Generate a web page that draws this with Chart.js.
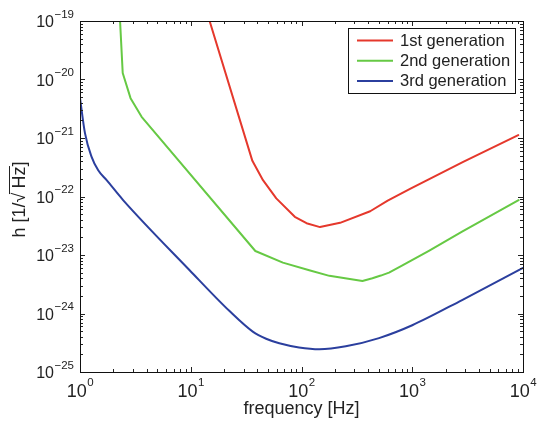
<!DOCTYPE html>
<html>
<head>
<meta charset="utf-8">
<script src="https://cdn.jsdelivr.net/npm/chart.js@4.4.1/dist/chart.umd.min.js"></script>
<style>
  html, body { margin: 0; padding: 0; background: #ffffff; }
  #c { display: block; }
</style>
</head>
<body>
<canvas id="c" width="542" height="421"></canvas>
<script>
// ---- data ----
const seriesNames = ["1st generation", "2nd generation", "3rd generation"];

const freq1 = [14.8, 36, 44.9, 59.2, 87, 111, 147, 223, 417, 600, 955, 2884, 9057];
const h1    = [1.0e-19, 4.07e-22, 1.9e-22, 9.3e-23, 4.5e-23, 3.5e-23, 3.0e-23, 3.55e-23, 5.6e-23, 8.5e-23, 1.35e-22, 3.9e-22, 1.12e-21];

const freq2 = [2.30, 2.43, 2.86, 3.6, 38.3, 67.9, 117.5, 178.6, 355, 437, 520, 617, 800, 1413, 2818, 9120];
const h2    = [1.0e-19, 1.29e-20, 4.8e-21, 2.3e-21, 1.17e-23, 7.4e-24, 5.5e-24, 4.4e-24, 3.6e-24, 4.0e-24, 4.45e-24, 5.0e-24, 6.5e-24, 1.18e-23, 2.5e-23, 8.7e-23];

const freq3 = [1, 1.11, 1.27, 1.46, 1.74, 2.45, 9.77, 22.4, 36.3, 47.9, 63, 95, 145, 251, 501, 1000, 2818, 10000];
const h3    = [4.8e-21, 1.2e-21, 4.8e-22, 2.8e-22, 1.9e-22, 8.7e-23, 5.5e-24, 1.1e-24, 4.9e-25, 3.7e-25, 3.1e-25, 2.63e-25, 2.45e-25, 2.75e-25, 3.8e-25, 6.3e-25, 1.7e-24, 6.0e-24];

const xTickExps = [0, 1, 2, 3, 4];
const yTickExps = [-25, -24, -23, -22, -21, -20, -19];
const xTitle = "frequency [Hz]";
const yTitleParts = ["h [1/\u221A", "Hz", "]"];

const colors = ["#e5382c", "#66c944", "#2b3f9e"];

function pts(xs, ys) { return xs.map((x, i) => ({ x: x, y: ys[i] })); }

const fmtExp = e => (e < 0 ? "\u2212" + Math.abs(e) : String(e));

const decorPlugin = {
  id: "decor",
  afterDatasetsDraw(chart) {
    const ctx = chart.ctx;
    const a = chart.chartArea;
    const xs = chart.scales.x, ys = chart.scales.y;
    ctx.save();
    ctx.strokeStyle = "#222";
    ctx.lineWidth = 1;
    const major = 5, minor = 3;
    ctx.beginPath();
    for (let i = 0; i < xTickExps.length; i++) {
      const e = xTickExps[i];
      for (let m = 1; m <= 9; m++) {
        const v = m * Math.pow(10, e);
        if (v > xs.max * 1.0001) break;
        const px = Math.round(xs.getPixelForValue(v)) + 0.5;
        const L = m === 1 ? major : minor;
        ctx.moveTo(px, a.bottom); ctx.lineTo(px, a.bottom - L);
        ctx.moveTo(px, a.top); ctx.lineTo(px, a.top + L);
      }
    }
    for (let i = 0; i < yTickExps.length; i++) {
      const e = yTickExps[i];
      for (let m = 1; m <= 9; m++) {
        const v = m * Math.pow(10, e);
        if (v > ys.max * 1.0001) break;
        const py = Math.round(ys.getPixelForValue(v)) + 0.5;
        const L = m === 1 ? major : minor;
        ctx.moveTo(a.left, py); ctx.lineTo(a.left + L, py);
        ctx.moveTo(a.right, py); ctx.lineTo(a.right - L, py);
      }
    }
    ctx.stroke();
    ctx.strokeStyle = "#111";
    ctx.strokeRect(Math.round(a.left) + 0.5, Math.round(a.top) + 0.5,
                   Math.round(a.right - a.left), Math.round(a.bottom - a.top));
    ctx.restore();
  },
  afterDraw(chart) {
    const ctx = chart.ctx;
    const a = chart.chartArea;
    const xs = chart.scales.x, ys = chart.scales.y;
    ctx.save();
    ctx.fillStyle = "#222";
    const fam = "'Liberation Sans', Arial, Helvetica, sans-serif";
    // x tick labels
    xTickExps.forEach(e => {
      const px = xs.getPixelForValue(Math.pow(10, e));
      ctx.font = "18px " + fam;
      const wb = ctx.measureText("10").width;
      ctx.font = "11.5px " + fam;
      const sup = fmtExp(e);
      const ws = ctx.measureText(sup).width;
      const start = px - (wb + ws) / 2;
      ctx.textAlign = "left";
      ctx.textBaseline = "alphabetic";
      ctx.font = "18px " + fam;
      ctx.fillText("10", start, a.bottom + 25);
      ctx.font = "11.5px " + fam;
      ctx.fillText(sup, start + wb + 0.5, a.bottom + 14);
    });
    // y tick labels
    yTickExps.forEach(e => {
      const py = ys.getPixelForValue(Math.pow(10, e));
      const sup = fmtExp(e);
      ctx.font = "11.5px " + fam;
      const ws = ctx.measureText(sup).width;
      const right = a.left - 6;
      ctx.textAlign = "left";
      ctx.textBaseline = "alphabetic";
      ctx.fillText(sup, right - ws, py - 3.5);
      ctx.font = "16px " + fam;
      const wb = ctx.measureText("10").width;
      ctx.fillText("10", right - ws - wb - 0.5, py + 6);
    });
    // x title
    ctx.font = "18px " + fam;
    ctx.textAlign = "center";
    ctx.fillText(xTitle, (a.left + a.right) / 2, 414);
    // y title (rotated) with radical overline
    ctx.save();
    ctx.translate(25, (a.top + a.bottom) / 2 + 3);
    ctx.rotate(-Math.PI / 2);
    ctx.font = "18px " + fam;
    ctx.textAlign = "left";
    const w0 = ctx.measureText(yTitleParts[0]).width;
    const gap = 4;
    const w1 = ctx.measureText(yTitleParts[1]).width;
    const w2 = ctx.measureText(yTitleParts[2]).width;
    const total = w0 + gap + w1 + w2;
    let sx = -total / 2;
    ctx.fillText(yTitleParts[0], sx, 0);
    ctx.fillText(yTitleParts[1], sx + w0 + gap, 0);
    ctx.fillText(yTitleParts[2], sx + w0 + gap + w1, 0);
    ctx.strokeStyle = "#222";
    ctx.lineWidth = 1;
    ctx.beginPath();
    ctx.moveTo(sx + w0 - 1.5, -15.5);
    ctx.lineTo(sx + w0 + gap + w1 + 0.5, -15.5);
    ctx.stroke();
    ctx.restore();
    // legend
    const lx0 = 348, ly0 = 28, lw = 167, lh = 65;
    ctx.fillStyle = "#ffffff";
    ctx.fillRect(lx0, ly0, lw, lh);
    ctx.strokeStyle = "#111";
    ctx.lineWidth = 1;
    ctx.strokeRect(lx0 + 0.5, ly0 + 0.5, lw, lh);
    chart.data.datasets.forEach((ds, i) => {
      const yy = 40.5 + i * 20.3;
      ctx.strokeStyle = ds.borderColor;
      ctx.lineWidth = 2;
      ctx.beginPath();
      ctx.moveTo(357, yy); ctx.lineTo(393, yy);
      ctx.stroke();
      ctx.fillStyle = "#222";
      ctx.font = "16.5px " + fam;
      ctx.textAlign = "left";
      ctx.textBaseline = "middle";
      ctx.fillText(ds.label, 400, yy + 0.5);
    });
    ctx.restore();
  }
};

new Chart(document.getElementById("c"), {
  type: "line",
  data: {
    datasets: [
      { label: seriesNames[0], data: pts(freq1, h1), borderColor: colors[0] },
      { label: seriesNames[1], data: pts(freq2, h2), borderColor: colors[1] },
      { label: seriesNames[2], data: pts(freq3, h3), borderColor: colors[2], cubicInterpolationMode: "monotone" }
    ]
  },
  options: {
    responsive: false,
    animation: false,
    devicePixelRatio: 1,
    layout: { padding: { left: 80, top: 21, right: 19, bottom: 49 } },
    scales: {
      x: { type: "logarithmic", min: 1, max: 1e4, display: false },
      y: { type: "logarithmic", min: 1e-25, max: 1e-19, display: false }
    },
    elements: {
      point: { radius: 0 },
      line: { borderWidth: 2, tension: 0, fill: false, borderJoinStyle: "round", borderCapStyle: "round" }
    },
    plugins: { legend: { display: false }, tooltip: { enabled: false } }
  },
  plugins: [decorPlugin]
});
</script>
</body>
</html>
